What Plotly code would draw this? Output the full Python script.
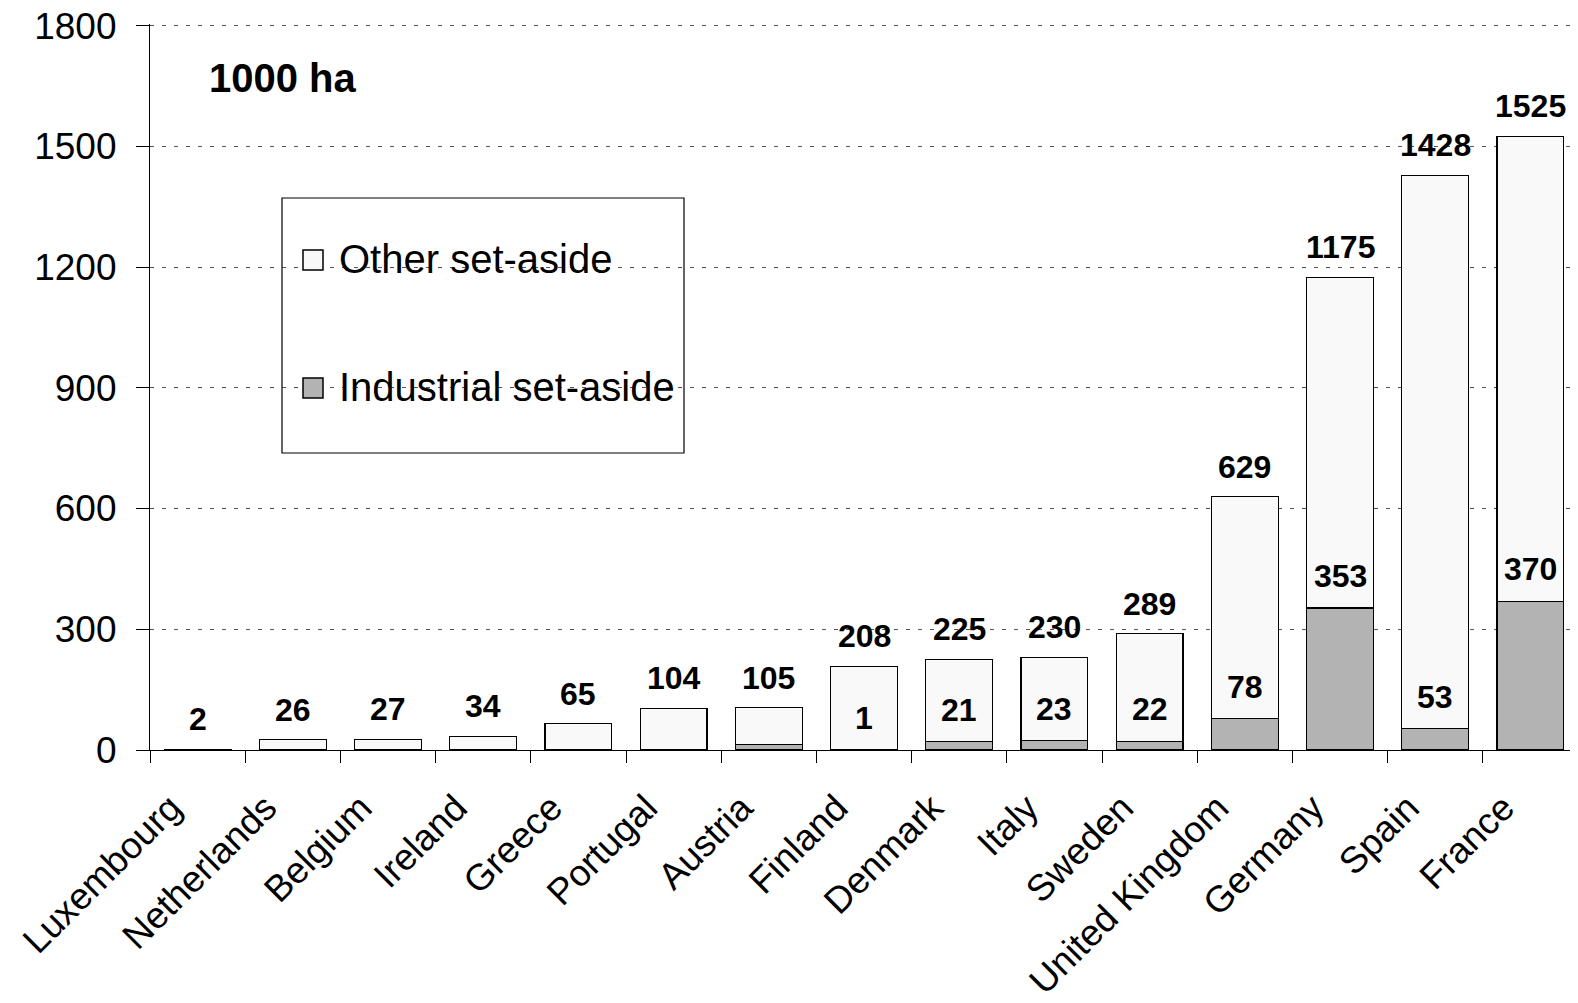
import plotly.graph_objects as go

countries = ["Luxembourg", "Netherlands", "Belgium", "Ireland", "Greece", "Portugal",
             "Austria", "Finland", "Denmark", "Italy", "Sweden", "United Kingdom",
             "Germany", "Spain", "France"]
total = [2, 26, 27, 34, 65, 104, 105, 208, 225, 230, 289, 629, 1175, 1428, 1525]
industrial = [0, 0, 0, 0, 0, 0, 14, 1, 21, 23, 22, 78, 353, 53, 370]
industrial_labels = ["", "", "", "", "", "", "", "1", "21", "23", "22", "78", "353", "53", "370"]
other = [t - i for t, i in zip(total, industrial)]
series_names = ["Other set-aside", "Industrial set-aside"]
y_ticks = [0, 300, 600, 900, 1200, 1500, 1800]

FONT = "Arial, Liberation Sans, sans-serif"
OTHER_COLOR = "#F9F9F9"
IND_COLOR = "#B3B3B3"
OFF = 8  # page body margin
W, H = 1578 - OFF, 1003 - OFF
Y_MAX = 1804

# page-pixel frame of the plot area (reference coordinates)
PL, PT, PB, PR = 150, 24, 750, 1578
def px_x(p):
    return (p - PL) / (PR - PL)
def px_y(p):
    return (PB - p) / (PB - PT)

fig = go.Figure()
fig.add_trace(go.Bar(x=countries, y=industrial, name=series_names[1],
                     marker=dict(color=IND_COLOR, line=dict(color="black", width=1.2))))
fig.add_trace(go.Bar(x=countries, y=other, name=series_names[0],
                     marker=dict(color=OTHER_COLOR, line=dict(color="black", width=1.2))))

annotations = []
for c, t in zip(countries, total):
    annotations.append(dict(x=c, y=t, text=f"<b>{t}</b>", showarrow=False,
                            xanchor="center", yanchor="bottom", yshift=10,
                            font=dict(family=FONT, size=32, color="black")))
for c, v, lab in zip(countries, industrial, industrial_labels):
    if lab:
        annotations.append(dict(x=c, y=v, text=f"<b>{lab}</b>", showarrow=False,
                                xanchor="center", yanchor="bottom", yshift=12,
                                font=dict(family=FONT, size=32, color="black")))

annotations.append(dict(xref="paper", yref="paper", x=px_x(207), y=px_y(78),
                        text="<b>1000 ha</b>", showarrow=False, xanchor="left", yanchor="middle",
                        font=dict(family=FONT, size=40, color="black")))

# legend (drawn as box + swatches + text)
shapes = [dict(type="rect", xref="paper", yref="paper",
               x0=px_x(282), x1=px_x(684), y0=px_y(453), y1=px_y(198),
               line=dict(color="black", width=1.2), fillcolor="rgba(0,0,0,0)", layer="above")]
legend_rows = [(series_names[0], OTHER_COLOR, 260), (series_names[1], IND_COLOR, 388)]
for name, col, cy in legend_rows:
    shapes.append(dict(type="rect", xref="paper", yref="paper",
                       x0=px_x(303), x1=px_x(323), y0=px_y(cy + 10), y1=px_y(cy - 10),
                       line=dict(color="black", width=1.5), fillcolor=col, layer="above"))
    annotations.append(dict(xref="paper", yref="paper", x=px_x(337), y=px_y(cy - 1),
                            text=name, showarrow=False, xanchor="left", yanchor="middle",
                            font=dict(family=FONT, size=40, color="black")))

fig.update_layout(
    width=W, height=H,
    margin=dict(l=PL - OFF, r=0, t=PT - OFF, b=H - (PB - OFF), pad=0),
    barmode="stack", bargap=0.3,
    plot_bgcolor="white", paper_bgcolor="white",
    font=dict(family=FONT, color="black"),
    annotations=annotations, shapes=shapes,
    showlegend=False,
)
fig.update_xaxes(showline=True, linecolor="black", linewidth=1.2,
                 ticks="outside", ticklen=12, tickcolor="black", tickson="boundaries",
                 tickangle=-45, tickfont=dict(family=FONT, size=37, color="black"),
                 ticklabelstandoff=20, ticklabelshift=-27,
                 showgrid=False, automargin=False)
fig.update_yaxes(range=[0, Y_MAX], tickvals=y_ticks,
                 showline=True, linecolor="black", linewidth=1.2,
                 ticks="outside", ticklen=13, tickcolor="black",
                 tickfont=dict(family=FONT, size=37, color="black"),
                 ticklabelstandoff=12, ticklabeloverflow="allow",
                 showgrid=True, gridcolor="#555555", gridwidth=1, griddash="4px,8px",
                 zeroline=False, automargin=False)

fig.write_html("out.html")
